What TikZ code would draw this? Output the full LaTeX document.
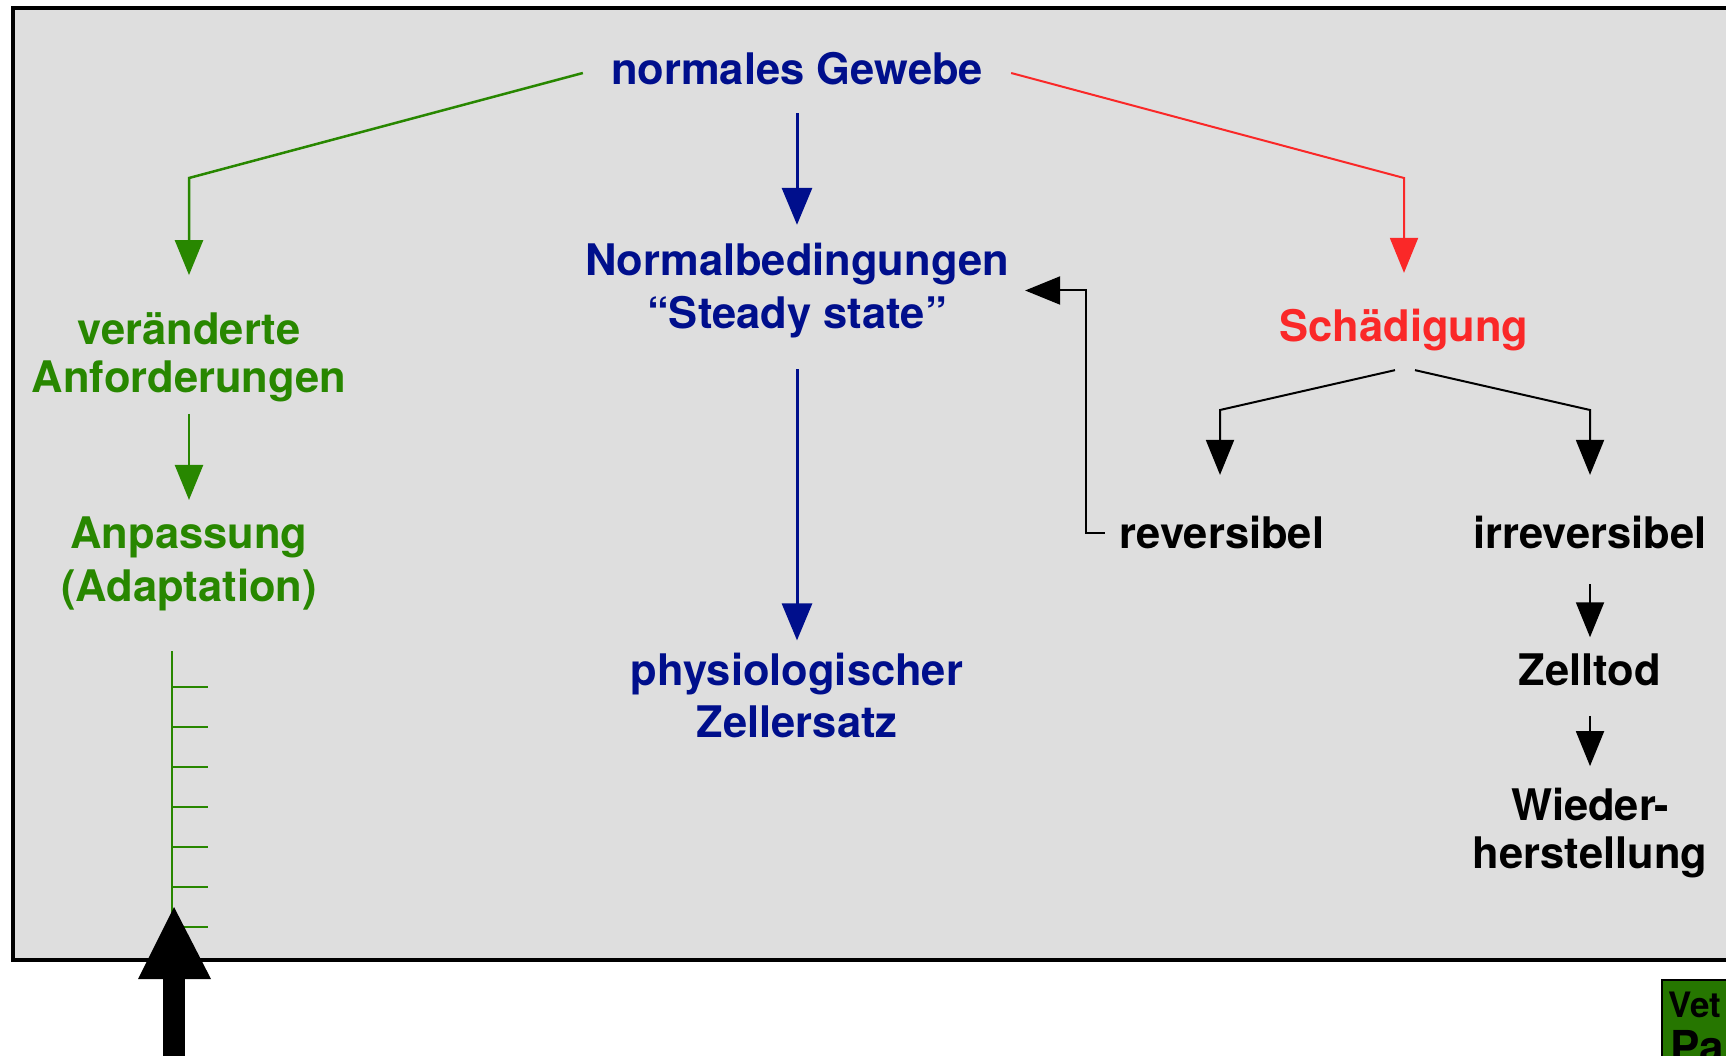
\documentclass[tikz,border=0pt]{standalone}
\usepackage{fontspec}
\setmainfont{TeX Gyre Heros}
\usetikzlibrary{arrows.meta}
\definecolor{cB}{RGB}{0,15,140}
\definecolor{cG}{RGB}{40,135,0}
\definecolor{cR}{RGB}{250,40,40}
\definecolor{cL}{RGB}{38,118,0}
\definecolor{cH}{RGB}{222,222,222}
\tikzset{mytext/.style={
  font=\fontsize{43.5}{#1}\selectfont\bfseries,
  align=center,
  inner sep=0pt,
  },
  mytext/.default=52
}
\tikzset{myarrow/.style={
  line width=2pt,
  -{Triangle[length=35pt,width=28pt]},
  }
}
\tikzset{myarrow2/.style={
  line width=3pt,
  draw=cB,
  -{Triangle[length=37pt,width=30pt]},
  }
}
\begin{document}
\begin{tikzpicture}[x=1pt,y=-1pt]
  \useasboundingbox (0,0) rectangle (1726,1056);
  \clip (0,0) rectangle (1726,1056);
  \draw [line width=4pt, fill=cH] (12.5,8.5) rectangle (1760,960);

  \node [mytext, cB] (n0) at (797,68.5) {normales Gewebe};
  \node [mytext=53, cB] (n1) at (797,290.5) {Normalbedingungen\\“Steady state”};
  \node [mytext, cB] (n2) at (797,695) {physiologischer\\Zellersatz};
  \node [mytext=48, cG] (g1) at (189,357) {veränderte\\Anforderungen};
  \node [mytext=52.5, cG] (g2) at (189,564) {Anpassung\\(Adaptation)};
  \node [mytext, cR] (r1) at (1404,330) {Schädigung};
  \node [mytext] (r2) at (1222,532.5) {reversibel};
  \node [mytext] (r3) at (1590,532.5) {irreversibel};
  \node [mytext] (r4) at (1590,669.5) {Zelltod};
  \node [mytext=47.5] (r5) at (1590,833) {Wieder-\\herstellung};

  \coordinate (k0) at (189,178);
  \coordinate (k1) at (1404,178);
  \coordinate (k2) at (1220,410);
  \coordinate (k3) at (1590,410);

  \draw [myarrow, line width=2.5pt, cG, shorten >=37pt] ([shift={(-28,4.5)}]n0.west) -- (k0) -- (g1.north);
  \draw [myarrow, cR, shorten >=36pt] ([shift={(28,4.5)}]n0.east) -- (k1) -- (r1.north);
  \draw [myarrow2, shorten <=28pt, shorten >=18pt] (n0.south) -- (n1.north);
  \draw [myarrow2, shorten <=31pt, shorten >=12pt] (n1.south) -- (n2.north);
  \draw [myarrow, line width=2.5pt, cG, shorten <=12pt, shorten >=17pt] (g1.south) -- (g2.north);
  \draw [myarrow, shorten >=41pt] ([shift={(-9,19)}]r1.south) -- (k2) -- (k2 |- r2.north);
  \draw [myarrow, shorten >=41pt] ([shift={(11,19)}]r1.south) -- (k3) -- (r3.north);
  \draw [myarrow] ([xshift=-15pt]r2.west) -- ++(-19,0) |- ([xshift=16pt]n1.east);
  \draw [myarrow, shorten <=35pt, shorten >=16pt] (r3.south) -- (r4.north);
  \draw [myarrow, shorten <=30pt, shorten >=22pt] (r4.south) -- (r5.north);

  \draw [cG, line width=2.5pt] (172,651) -- (172,940);
  \foreach \y in {687,727,...,927}
    \draw [cG, line width=1.7pt] (172,\y) -- (208,\y);

  \fill (163,1070) rectangle (185,975);
  \fill (174,907) -- (211,979) -- (138,979) -- cycle;

  \node [draw=black, line width=1.5pt, fill=cL, minimum width=120pt, minimum height=120pt, anchor=north west, inner sep=0pt] (lg) at (1661,979) {};
  \node [font=\fontsize{35}{35}\selectfont\bfseries, anchor=base west, inner sep=0pt] (lv) at (1668,1017) {Vet};
  \node [font=\fontsize{44}{44}\selectfont\bfseries, anchor=base west, inner sep=0pt] (lp) at (1670,1062) {Pa};
\end{tikzpicture}
\end{document}
